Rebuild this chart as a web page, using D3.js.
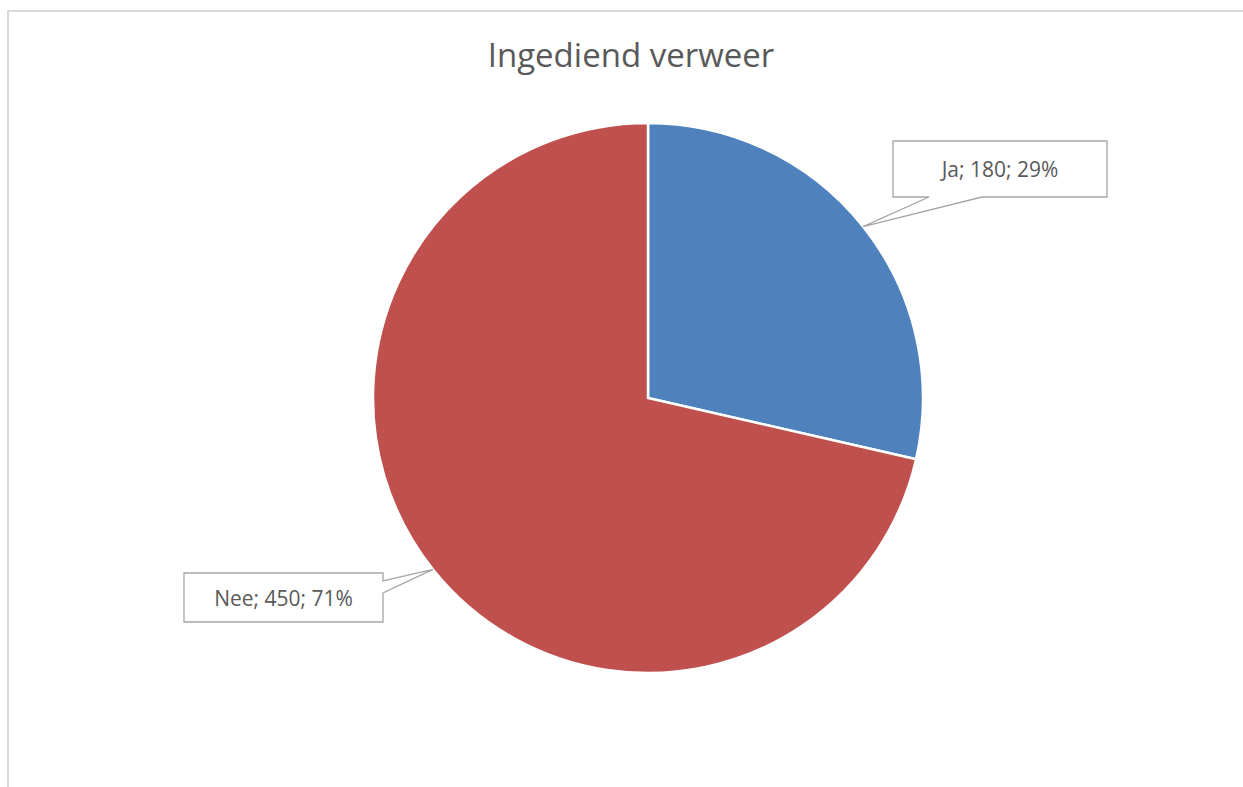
<!DOCTYPE html>
<html>
<head>
<meta charset="utf-8">
<script src="https://cdn.jsdelivr.net/npm/d3@7"></script>
<style>
  html, body { margin: 0; padding: 0; background: #fff; }
  svg { display: block; }
</style>
</head>
<body>
<div id="chart"></div>
<script>
var title = "Ingediend verweer"
var categories = ["Ja", "Nee"]
var values = [180, 450]
var colors = ["#4F81BD", "#C0504D"]

var width = 1243, height = 787
var cx = 648, cy = 398, radius = 275

var svg = d3.select("#chart").append("svg")
  .attr("width", width)
  .attr("height", height)
  .style("font-family", "'Open Sans', sans-serif")

// chart frame, runs off the right and bottom of the window
svg.append("rect")
  .attr("x", 8).attr("y", 11)
  .attr("width", 1400).attr("height", 1000)
  .attr("fill", "none")
  .attr("stroke", "#d9d9d9")
  .attr("stroke-width", 2)

svg.append("text")
  .attr("x", 631).attr("y", 67)
  .attr("text-anchor", "middle")
  .attr("fill", "#595959")
  .style("font-size", "33px")
  .text(title)

var data = categories.map(function(c, i) { return {name: c, value: values[i], color: colors[i]} })
var total = d3.sum(values)

var pie = d3.pie().sort(null).value(function(d) { return d.value })
var arcs = pie(data)
var arc = d3.arc().innerRadius(0).outerRadius(radius)

var g = svg.append("g").attr("transform", "translate(" + cx + "," + cy + ")")

g.selectAll("path")
  .data(arcs)
  .enter().append("path")
  .attr("d", arc)
  .attr("fill", function(d) { return d.data.color })
  .attr("stroke", "#fff")
  .attr("stroke-width", 2.5)

// callout boxes and where the leader leaves them
var boxes = [
  {x: 893, y: 141, w: 214, h: 56, side: "bottom", a: 929, b: 982},
  {x: 184, y: 573, w: 199, h: 49, side: "right", a: 581, b: 593}
]

arcs.forEach(function(d, i) {
  var mid = (d.startAngle + d.endAngle) / 2
  var tx = cx + radius * Math.sin(mid)
  var ty = cy - radius * Math.cos(mid)
  var bx = boxes[i]
  var pts
  if (bx.side == "bottom") {
    var yb = bx.y + bx.h
    pts = [[bx.x, bx.y], [bx.x + bx.w, bx.y], [bx.x + bx.w, yb], [bx.b, yb], [tx, ty], [bx.a, yb], [bx.x, yb]]
  } else {
    var xr = bx.x + bx.w
    pts = [[bx.x, bx.y], [xr, bx.y], [xr, bx.a], [tx, ty], [xr, bx.b], [xr, bx.y + bx.h], [bx.x, bx.y + bx.h]]
  }
  svg.append("path")
    .attr("d", "M" + pts.map(function(p) { return p.join(",") }).join("L") + "Z")
    .attr("fill", "#fff")
    .attr("stroke", "#a6a6a6")
    .attr("stroke-width", 1.3)

  var pct = Math.round(d.data.value / total * 100)
  svg.append("text")
    .attr("x", bx.x + bx.w / 2)
    .attr("y", bx.y + bx.h / 2 + 8)
    .attr("text-anchor", "middle")
    .attr("fill", "#595959")
    .style("font-size", "21px")
    .text(d.data.name + "; " + d.data.value + "; " + pct + "%")
})
</script>
</body>
</html>
